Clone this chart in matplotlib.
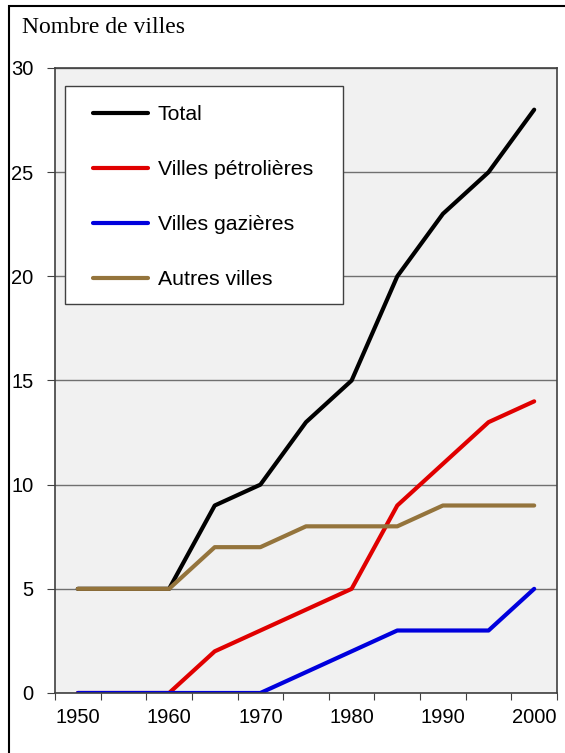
import matplotlib
matplotlib.use("Agg")
import matplotlib.pyplot as plt
import numpy as np

# Data
years = [1950, 1955, 1960, 1965, 1970, 1975, 1980, 1985, 1990, 1995, 2000]
total = [5, 5, 5, 9, 10, 13, 15, 20, 23, 25, 28]
petrolieres = [0, 0, 0, 2, 3, 4, 5, 9, 11, 13, 14]
gazieres = [0, 0, 0, 0, 0, 1, 2, 3, 3, 3, 5]
autres = [5, 5, 5, 7, 7, 8, 8, 8, 9, 9, 9]

series = [
    ("Total", total, "#000000"),
    ("Villes pétrolières", petrolieres, "#E00000"),
    ("Villes gazières", gazieres, "#0000DD"),
    ("Autres villes", autres, "#94743C"),
]

plt.rcParams["font.family"] = ["Liberation Sans", "DejaVu Sans"]

fig = plt.figure(figsize=(5.65, 7.53), dpi=100)
ax = fig.add_axes([55 / 565, 1 - 693 / 753, 502 / 565, 625 / 753])
ax.set_facecolor("#F1F1F1")

x = np.arange(len(years))
for label, vals, color in series:
    ax.plot(x, vals, color=color, lw=3.0, label=label, solid_capstyle="round")

ax.set_xlim(-0.5, len(years) - 0.5)
ax.set_ylim(0, 30)
ax.set_yticks(range(0, 31, 5))
ax.yaxis.grid(True, color="#707070", lw=1)
ax.set_axisbelow(True)

# category axis: ticks on boundaries, labels every other category
ax.set_xticks(np.arange(-0.5, len(years), 1))
ax.set_xticklabels([])
ax.set_xticks(x[::2], minor=True)
ax.set_xticklabels([str(y) for y in years[::2]], minor=True)
ax.tick_params(axis="x", which="major", length=5, direction="out", color="#404040")
ax.tick_params(axis="x", which="minor", length=0, labelsize=14.5, pad=11)
ax.tick_params(axis="y", length=6, direction="out", color="#404040", labelsize=14.5, pad=9.5)

for s in ax.spines.values():
    s.set_color("#404040")
    s.set_linewidth(1.2)

# legend frame drawn as its own box, legend entries placed inside it
box = plt.Rectangle((10 / 502, (693 - 304) / 625), 278 / 502, 218 / 625,
                    transform=ax.transAxes, facecolor="white", edgecolor="#404040",
                    lw=1.0, zorder=4)
ax.add_patch(box)
leg = ax.legend(loc="upper left", bbox_to_anchor=((93 - 55) / 502, (693 - 105) / 625),
                fontsize=15.3, frameon=False, borderpad=0, labelspacing=1.70,
                handlelength=2.6, handletextpad=0.45, borderaxespad=0)
leg.set_zorder(5)
for h in leg.get_lines():
    h.set_linewidth(3.0)

fig.text(22 / 565, 1 - 33 / 753, "Nombre de villes", family="Liberation Serif",
         fontsize=17, va="baseline", ha="left")

# outer frame (top and left edges visible)
fig.add_artist(plt.Rectangle((9 / 565, -0.05), 1.1, 1 - 6 / 753 + 0.05,
                             transform=fig.transFigure, fill=False,
                             edgecolor="black", lw=1.5))

fig.savefig("out.png", dpi=100)
